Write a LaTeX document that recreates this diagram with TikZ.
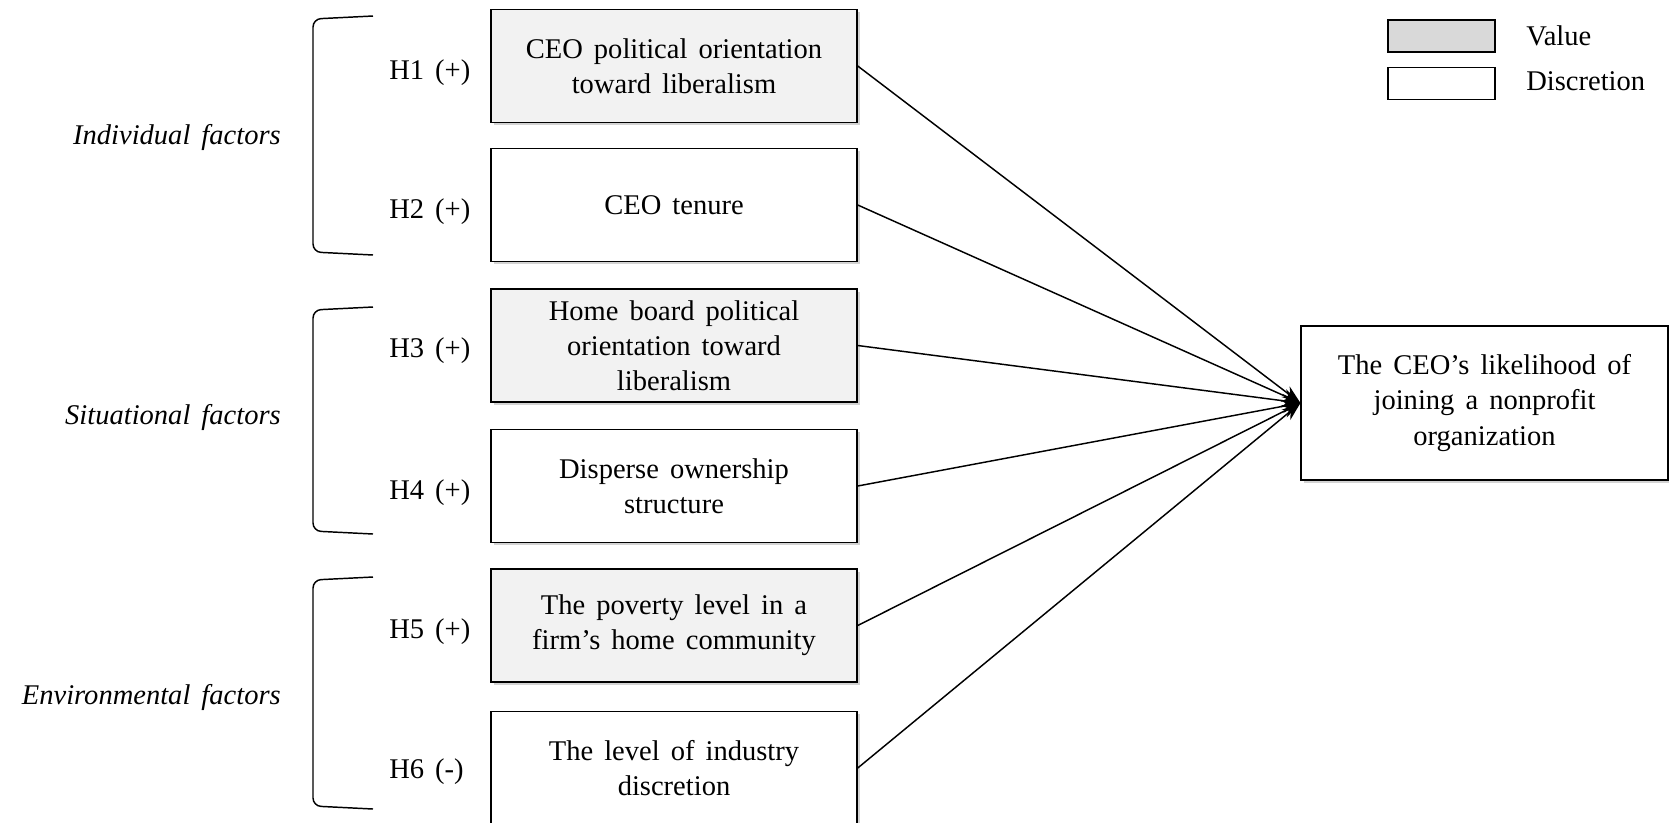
\documentclass[tikz,border=0pt]{standalone}
\usepackage{fontspec}
\setmainfont{Liberation Serif}[WordSpace=1.55]
\usetikzlibrary{arrows.meta,shadows}

\definecolor{valuefill}{RGB}{242,242,242}
\definecolor{keyfill}{RGB}{217,217,217}

\tikzset{
  txt/.style={font=\fontsize{21.4}{26.3}\selectfont, inner sep=0pt},
  factor/.style={txt, draw, line width=1.1pt, fill=white, align=center,
    minimum width=274.5pt, minimum height=84.5pt,
    drop shadow={shadow xshift=2pt, shadow yshift=-2pt, opacity=0.35}},
  valuebox/.style={factor, fill=valuefill},
  keybox/.style={draw, line width=1.1pt, minimum width=80pt, minimum height=24pt, inner sep=0pt},
  hlabel/.style={txt, anchor=west},
  grouplabel/.style={txt, anchor=east, font=\fontsize{21.4}{26.3}\selectfont\itshape},
  bracket/.style={line width=1.1pt, rounded corners=6pt},
  link/.style={line width=1.1pt, -{Stealth[length=14pt,width=10pt]}}
}

\begin{document}
\begin{tikzpicture}[x=0.75pt,y=0.75pt,yscale=-1]
\useasboundingbox (0,0) rectangle (1669,822);

% factor boxes
\node[valuebox] (f1) at (674,66) {CEO political orientation\\toward liberalism};
\node[factor] (f2) at (674,205) {CEO tenure};
\node[valuebox] (f3) at (674,345.5) {Home board political\\orientation toward\\liberalism};
\node[factor] (f4) at (674,486) {Disperse ownership\\structure};
\node[valuebox] (f5) at (674,625.5) {The poverty level in a\\firm’s home community};
\node[factor] (f6) at (674,768) {The level of industry\\discretion};

% outcome
\node[factor, minimum width=275pt, minimum height=115.5pt] (target) at (1484.5,403)
  {The CEO’s likelihood of\\joining a nonprofit\\organization};

% hypotheses
\node[hlabel] (h1) at (389,73) {H1 (+)};
\node[hlabel] (h2) at (389,212) {H2 (+)};
\node[hlabel] (h3) at (389,351) {H3 (+)};
\node[hlabel] (h4) at (389,493) {H4 (+)};
\node[hlabel] (h5) at (389,632) {H5 (+)};
\node[hlabel] (h6) at (389,772) {H6 (-)};

% groups
\draw[bracket] (373,16) -- (313,19) -- (313,252) -- (373,255);
\draw[bracket] (373,307) -- (313,310) -- (313,531) -- (373,534);
\draw[bracket] (373,577) -- (313,580) -- (313,806) -- (373,809);
\node[grouplabel] (g1) at (281,137) {Individual factors};
\node[grouplabel] (g2) at (281,417) {Situational factors};
\node[grouplabel] (g3) at (281,697) {Environmental factors};

% legend
\node[keybox, fill=keyfill] (kvalue) at (1441.5,36) {};
\node[keybox, fill=white] (kdisc) at (1441.5,83.5) {};
\node[hlabel] (lvalue) at (1526,36) {Value};
\node[hlabel] (ldisc) at (1526,81) {Discretion};

% paths
\foreach \i in {1,...,6}
  \draw[link] (f\i.east) -- (target.west);

\end{tikzpicture}
\end{document}
